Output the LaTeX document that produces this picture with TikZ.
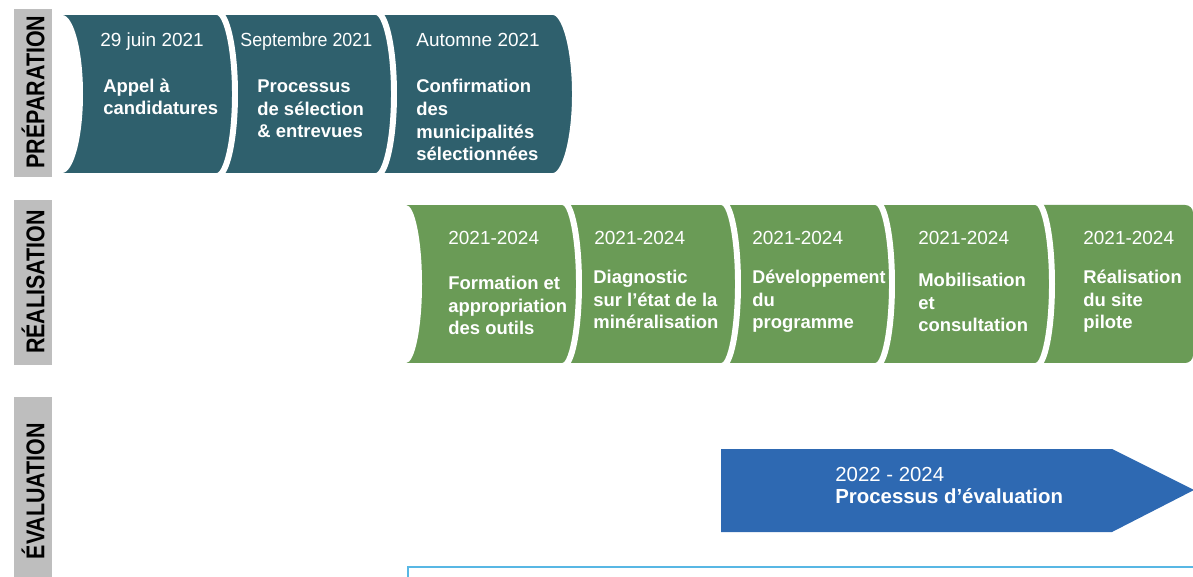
\documentclass[tikz,border=0pt]{standalone}
\usepackage{fontspec}
\usepackage{graphicx}
\setmainfont{Liberation Sans}

\definecolor{prepteal}{RGB}{47,96,109}
\definecolor{realgreen}{RGB}{106,155,86}
\definecolor{evalblue}{RGB}{46,105,178}
\definecolor{bandgray}{RGB}{190,190,190}
\definecolor{framecyan}{RGB}{88,183,228}

% one stage: [outline], colour, left, right, top, bottom, bulge
\newcommand{\etape}[7][draw=white,line width=3.4pt]{%
  \pgfmathsetmacro{\etapemid}{(#5+#6)/2}
  \pgfmathsetmacro{\etapectl}{(#6-#5)/2*0.552}
  \path[fill=#2,#1] (#3,#5) -- (#4,#5)
    .. controls (#4+0.552*#7,#5) and (#4+#7,\etapemid-\etapectl) .. (#4+#7,\etapemid)
    .. controls (#4+#7,\etapemid+\etapectl) and (#4+0.552*#7,#6) .. (#4,#6)
    -- (#3,#6) -- cycle;
}

\tikzset{
  datelbl/.style={anchor=base west,inner sep=0pt,text=white,
    font=\fontsize{10.8}{13}\selectfont},
  tache/.style={anchor=base west,inner sep=0pt,align=left,text=white,
    font=\fontsize{10.5}{13}\selectfont\bfseries},
}

\begin{document}
\begin{tikzpicture}[x=0.02cm,y=-0.02cm]
  \useasboundingbox (0,0) rectangle (1193,577);

  % phase bands
  \fill[bandgray] (14,9) rectangle (52,177);
  \fill[bandgray] (14,200) rectangle (52,365);
  \fill[bandgray] (14,397) rectangle (52,580);

  \begin{scope}[every node/.style={rotate=90,inner sep=0pt,
      font=\fontsize{12.2}{14}\selectfont\bfseries}]
    \node (prep) at (33,92)  {\scalebox{1}[1.2]{PRÉPARATION}};
    \node (real) at (33,282) {\scalebox{1}[1.2]{RÉALISATION}};
    \node (eval) at (33,491) {\scalebox{1}[1.2]{ÉVALUATION}};
  \end{scope}

  % preparation, drawn right to left
  \etape{prepteal}{376}{553}{12}{176}{22}
  \etape{prepteal}{217}{376}{12}{176}{18}
  \etape{prepteal}{60}{217}{12}{176}{18}
  \etape[draw=none]{white}{55}{62}{15}{173}{21}

  % realisation, drawn right to left
  \fill[realgreen,rounded corners=4.5pt] (1020,205) rectangle (1193,363);
  \etape{realgreen}{876}{1036}{202}{366}{16}
  \etape{realgreen}{722}{876}{202}{366}{16}
  \etape{realgreen}{563}{722}{202}{366}{16}
  \etape{realgreen}{402}{563}{202}{366}{16}
  \etape[draw=none]{white}{398}{406}{205}{363}{16}

  % evaluation
  \fill[evalblue] (721,449) -- (1112,449) -- (1194,490) -- (1112,532)
    -- (721,532) -- cycle;
  \draw[framecyan,line width=1.2pt] (408,580) -- (408,567) -- (1196,567);

  \begin{scope}[every node/.style={datelbl}]
    \node (pd1) at (100,47) {29 juin 2021};
    \node (pd2) at (240,47) {\scalebox{0.94}[1]{Septembre 2021}};
    \node (pd3) at (416,47) {Automne 2021};
    \node (rd1) at (448,245) {2021-2024};
    \node (rd2) at (594,245) {2021-2024};
    \node (rd3) at (752,245) {2021-2024};
    \node (rd4) at (918,245) {2021-2024};
    \node (rd5) at (1083,245) {2021-2024};
  \end{scope}

  % base anchor sits on the last line
  \begin{scope}[every node/.style={tache}]
    \node (pt1) at (103,115) {Appel à\\candidatures};
    \node (pt2) at (257,138) {Processus\\de sélection\\\& entrevues};
    \node (pt3) at (416,161) {Confirmation\\des\\municipalités\\sélectionnées};
    \node (rt1) at (448,335) {Formation et\\appropriation\\des outils};
    \node (rt2) at (593,329) {Diagnostic\\sur l’état de la\\minéralisation};
    \node (rt3) at (752,329) {\scalebox{0.97}[1]{Développement}\\du\\programme};
    \node (rt4) at (918,332) {Mobilisation\\et\\consultation};
    \node (rt5) at (1083,329) {Réalisation\\du site\\pilote};
  \end{scope}

  \node[anchor=base west,inner sep=0pt,align=left,text=white,
    font=\fontsize{11.6}{12}\selectfont] (et1) at (835,503)
    {2022 - 2024\\\textbf{Processus d’évaluation}};

\end{tikzpicture}
\end{document}
